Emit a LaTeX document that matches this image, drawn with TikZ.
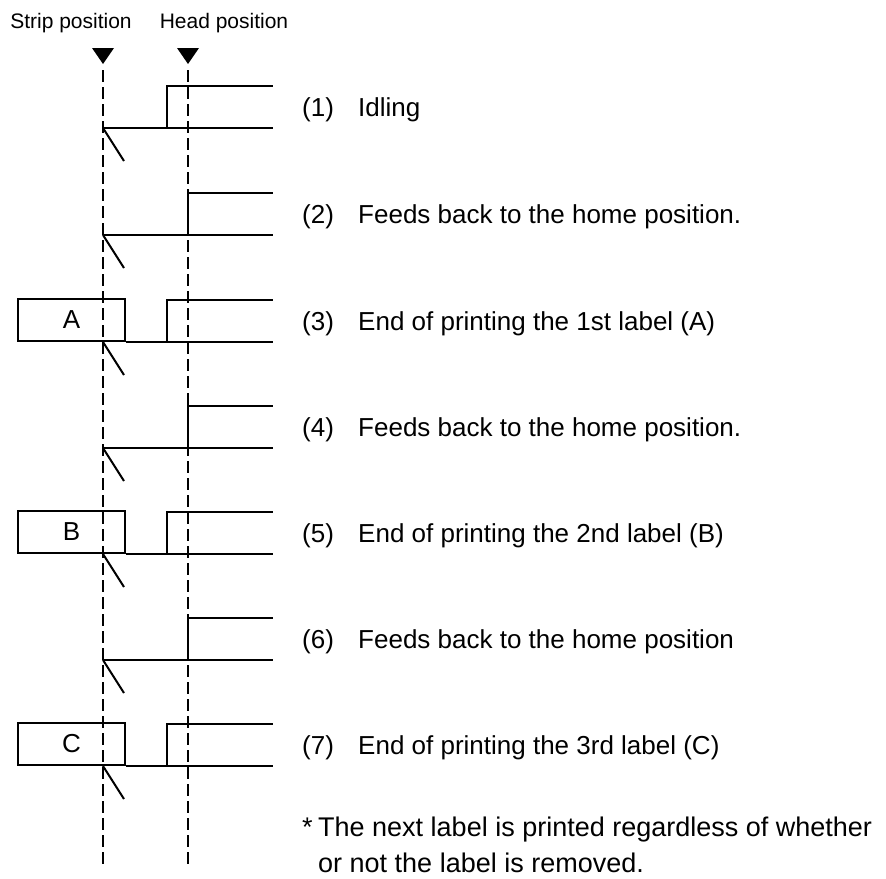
\documentclass[tikz,border=0pt]{standalone}
\usepackage{fontspec}
\setmainfont{Liberation Sans}
\usetikzlibrary{positioning}

\begin{document}
\begin{tikzpicture}[
  x=1pt, y=-1pt,
  guide/.style={line width=2pt, dash pattern=on 12pt off 5pt},
  tape/.style={line width=2pt, line join=miter},
  marker/.style={fill=black},
  lbl/.style={draw, line width=2pt, minimum width=107pt, minimum height=42pt,
              inner sep=0pt, font=\fontsize{26}{30}\selectfont},
  stepno/.style={anchor=base west, inner sep=0pt, font=\fontsize{26}{30}\selectfont},
  desc/.style={anchor=base west, inner sep=0pt, font=\fontsize{26}{30}\selectfont},
  notefont/.style={anchor=base west, inner sep=0pt, font=\fontsize{27}{32}\selectfont},
  poshead/.style={anchor=base, inner sep=0pt, font=\fontsize{21}{25}\selectfont},
]
\useasboundingbox (0,0) rectangle (886,878);

% position marks
\node[poshead] (strip) at (71,28)  {Strip position};
\node[poshead] (head)  at (224,28) {Head position};
\fill[marker] (92,48) -- (114,48) -- (103,64) -- cycle;
\fill[marker] (177,48) -- (199,48) -- (188,64) -- cycle;
\coordinate (striptop) at (103,70);
\coordinate (stripbot) at (103,868);
\coordinate (headtop)  at (188,70);
\coordinate (headbot)  at (188,868);
\draw[guide] (striptop) -- (stripbot);
\draw[guide] (headtop) -- (headbot);

% (1) idling
\draw[tape] (103,128) -- (273,128);
\draw[tape] (167,128) |- (273,86);
\draw[tape] (103,128) -- (124,161);

% feed back rows
\foreach \yb in {235,448,660} {
  \draw[tape] (103,\yb) -- (273,\yb);
  \draw[tape] (188,\yb) |- (273,\yb-42);
  \draw[tape] (103,\yb) -- (124,\yb+33);
}

% printed labels
\foreach \yb/\lab in {342/A,554/B,766/C} {
  \node[lbl, anchor=south west] (label\lab) at (17,\yb) {\lab};
  \draw[tape] (label\lab.south east) -- (273,\yb);
  \draw[tape] (167,\yb) |- (273,\yb-42);
  \draw[tape] (103,\yb) -- (124,\yb+33);
}

% step texts
\foreach \yb/\no/\txt in {128/1/Idling,
    235/2/Feeds back to the home position.,
    342/3/End of printing the 1st label (A),
    448/4/Feeds back to the home position.,
    554/5/End of printing the 2nd label (B),
    660/6/Feeds back to the home position,
    766/7/End of printing the 3rd label (C)} {
  \node[stepno] (no\no) at (302,\yb-12) {(\no)};
  \node[desc] (desc\no) at (358,\yb-12) {\txt};
}

\node[notefont] (note) at (302,836) {*};
\node[notefont] (notetext) at (318,836) {The next label is printed regardless of whether};
\node[notefont] (notetext2) at (318,872) {or not the label is removed.};
\end{tikzpicture}
\end{document}
